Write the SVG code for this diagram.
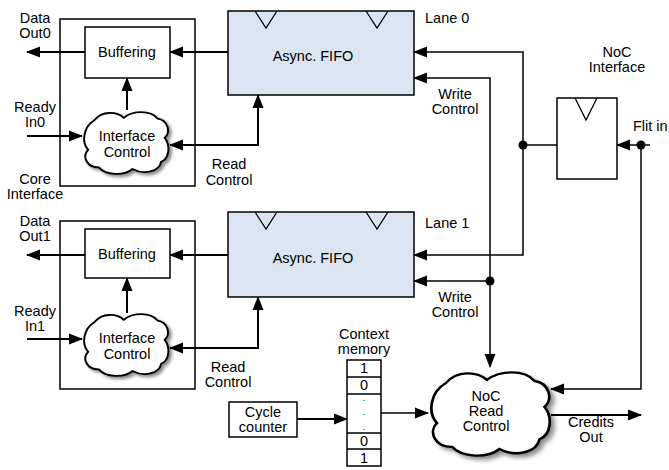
<svg xmlns="http://www.w3.org/2000/svg" width="669" height="470" viewBox="0 0 669 470">
<defs>
<marker id="ah" markerUnits="userSpaceOnUse" markerWidth="14" markerHeight="12" refX="13" refY="5.5" orient="auto-start-reverse" viewBox="0 0 14 11">
<path d="M0,0 L14,5.5 L0,11 Z" fill="#000"/>
</marker>
<filter id="sh" x="-20%" y="-20%" width="150%" height="150%">
<feDropShadow dx="3" dy="3" stdDeviation="2" flood-color="#000" flood-opacity="0.45"/>
</filter>
<path id="cloud" d="M15,14 C24,2 40,3 48,11 C58,2 78,1 86,12 C98,14 101,29 94,36 C101,46 99,62 90,66 C88,78 71,83 58,75 C48,84 28,83 20,73 C6,73 1,59 8,51 C0,41 3,22 15,14 Z"/>
</defs>
<style>
text{font-family:"Liberation Sans",Arial,sans-serif;font-size:14.5px;fill:#000;text-anchor:middle}
.box{fill:#fff;stroke:#000;stroke-width:1.5}
.fifo{fill:#dbe5f1;stroke:#000;stroke-width:1.5}
.tri{fill:none;stroke:#000;stroke-width:1.3}
.cl{fill:#fff;stroke:#000;stroke-width:2.2;filter:url(#sh)}
.w{fill:none;stroke:#000;stroke-width:2}
.t{fill:none;stroke:#000;stroke-width:1.5}
.a{marker-end:url(#ah)}
.b{marker-start:url(#ah);marker-end:url(#ah)}
.l{text-anchor:start}
.d{font-size:9px}
</style>

<g id="core0">
<rect class="box" x="60" y="19" width="135" height="167"/>
<text x="35" y="184">Core</text><text x="35" y="199">Interface</text>
</g>
<g id="buffer0">
<rect class="box" x="85" y="27" width="85" height="51"/>
<text x="127" y="57">Buffering</text>
</g>
<g id="ictrl0">
<use href="#cloud" class="cl" transform="translate(81,109) scale(0.89,0.8)"/>
<text x="127" y="141">Interface</text><text x="127" y="157">Control</text>
</g>
<g id="fifo0">
<rect class="fifo" x="228" y="11" width="186" height="84"/>
<path class="tri" d="M255,11 L266,28 L277,11 M366,11 L377,28 L388,11"/>
<text x="313" y="61">Async. FIFO</text>
</g>

<g id="core1">
<rect class="box" x="60" y="221" width="135" height="168"/>
</g>
<g id="buffer1">
<rect class="box" x="85" y="229" width="85" height="49"/>
<text x="127" y="259">Buffering</text>
</g>
<g id="ictrl1">
<use href="#cloud" class="cl" transform="translate(81,311) scale(0.89,0.8)"/>
<text x="127" y="343">Interface</text><text x="127" y="359">Control</text>
</g>
<g id="fifo1">
<rect class="fifo" x="228" y="212" width="186" height="85"/>
<path class="tri" d="M255,212 L266,229 L277,212 M366,212 L377,229 L388,212"/>
<text x="313" y="263">Async. FIFO</text>
</g>

<g id="nocif">
<rect class="box" x="557" y="98" width="60" height="81"/>
<path class="tri" d="M575,98 L586,120 L597,98"/>
<text x="617" y="57">NoC</text><text x="617" y="72">Interface</text>
</g>
<g id="ctxmem">
<rect class="box" x="347" y="360" width="34" height="106"/>
<path class="t" d="M347,377 H381 M347,394 H381 M347,433 H381 M347,449 H381"/>
<text x="364" y="373">1</text><text x="364" y="390">0</text>
<text class="d" x="364" y="401">.</text><text class="d" x="364" y="415">.</text><text class="d" x="364" y="430">.</text>
<text x="364" y="446">0</text><text x="364" y="463">1</text>
<text x="364" y="339">Context</text><text x="364" y="354">memory</text>
</g>
<g id="cycle">
<rect class="box" x="229" y="402" width="68" height="35"/>
<text x="263" y="417">Cycle</text><text x="263" y="432">counter</text>
</g>
<g id="nocrc">
<use href="#cloud" class="cl" transform="translate(427,368) scale(1.25,1.08)"/>
<text x="486" y="401">NoC</text><text x="486" y="416">Read</text><text x="486" y="431">Control</text>
</g>

<g id="connectors">
<path class="w a" d="M85,52 H27"/>
<path class="w a" d="M228,52 H170"/>
<path class="w a" d="M127,110 V78"/>
<path class="w a" d="M27,136 H82"/>
<path class="w b" d="M170,145 H258 V95"/>
<path class="w a" d="M85,255 H27"/>
<path class="w a" d="M228,255 H170"/>
<path class="w a" d="M127,313 V278"/>
<path class="w a" d="M27,339 H82"/>
<path class="w b" d="M170,348 H258 V297"/>
<path class="t a" d="M523,145 V52 H414"/>
<path class="t a" d="M523,145 V255 H414"/>
<path class="t" d="M523,145 H557"/>
<circle cx="523" cy="145" r="4.5"/>
<path class="t a" d="M490,281 V78 H414"/>
<path class="t a" d="M490,281 H414"/>
<path class="t a" d="M490,281 V367"/>
<circle cx="490" cy="281" r="4.5"/>
<path class="t a" d="M650,145 H617"/>
<circle cx="641" cy="145" r="4.5"/>
<path class="t a" d="M641,145 V389 H551"/>
<path class="w a" d="M551,415 H641"/>
<path class="w a" d="M297,419 H347"/>
<path class="t a" d="M381,413 H428"/>
</g>

<g id="labels">
<text x="35" y="23">Data</text><text x="35" y="38">Out0</text>
<text x="35" y="112">Ready</text><text x="35" y="127">In0</text>
<text x="35" y="226">Data</text><text x="35" y="241">Out1</text>
<text x="35" y="316">Ready</text><text x="35" y="331">In1</text>
<text x="229" y="169">Read</text><text x="229" y="185">Control</text>
<text x="228" y="372">Read</text><text x="228" y="387">Control</text>
<text x="455" y="99">Write</text><text x="455" y="114">Control</text>
<text x="455" y="302">Write</text><text x="455" y="317">Control</text>
<text class="l" x="425" y="23">Lane 0</text>
<text class="l" x="425" y="228">Lane 1</text>
<text class="l" x="633" y="131">Flit in</text>
<text x="591" y="427">Credits</text><text x="591" y="442">Out</text>
</g>
</svg>
